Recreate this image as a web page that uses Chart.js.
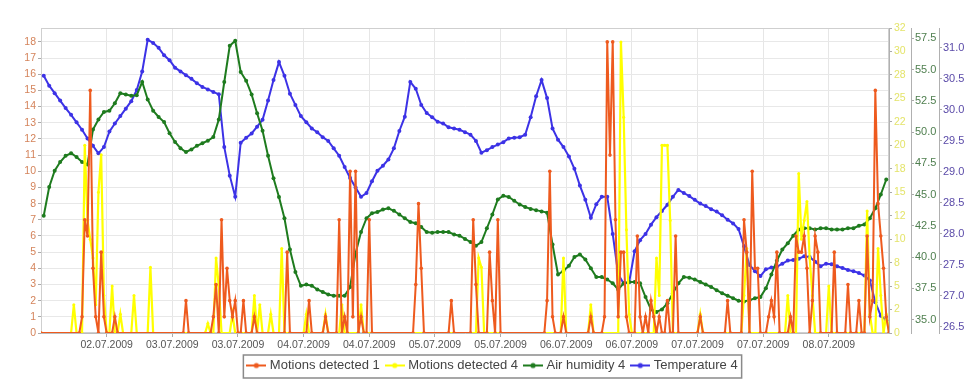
<!DOCTYPE html>
<html><head><meta charset="utf-8">
<script src="https://cdn.jsdelivr.net/npm/chart.js@4.4.1/dist/chart.umd.min.js"></script>
<style>html,body{margin:0;padding:0;background:#fff;}canvas{display:block;}</style>
</head><body>
<canvas id="c" width="971" height="385"></canvas>
<script>
// ---------- data ----------
const SERIES_NAMES = ['Motions detected 1', 'Motions detected 4', 'Air humidity 4', 'Temperature 4'];

// x axis: hours since 02.07.2009 00:00
const X_MIN_HOUR = 0, X_MAX_HOUR = 155;
const X_TICK_HOURS = [12, 24, 36, 48, 60, 72, 84, 96, 108, 120, 132, 144];
const X_TICK_LABELS = ['02.07.2009', '03.07.2009', '03.07.2009', '04.07.2009', '04.07.2009', '05.07.2009',
  '05.07.2009', '06.07.2009', '06.07.2009', '07.07.2009', '07.07.2009', '08.07.2009'];

const LEFT_TICKS = [0, 1, 2, 3, 4, 5, 6, 7, 8, 9, 10, 11, 12, 13, 14, 15, 16, 17, 18];
const YELLOW_TICKS = [0, 2.5, 5, 7.5, 10, 12.5, 15, 17.5, 20, 22.5, 25, 27.5, 30, 32.5];
const YELLOW_TICK_LABELS = ['0', '2', '5', '8', '10', '12', '15', '18', '20', '22', '25', '28', '30', '32'];
const HUMIDITY_TICKS = [35, 37.5, 40, 42.5, 45, 47.5, 50, 52.5, 55, 57.5];
const TEMP_TICKS = [26.5, 27, 27.5, 28, 28.5, 29, 29.5, 30, 30.5, 31];

// hourly sensor readings (taken at hh:30), first one at 02.07 00:30
const SENSOR_FIRST_HOUR = 0.5;
const TEMPERATURE = [
  30.55, 30.39, 30.27, 30.15, 30.03, 29.92, 29.80, 29.68, 29.54, 29.42,
  29.30, 29.40, 29.65, 29.78, 29.90, 30.02, 30.14, 30.32, 30.62, 31.13,
  31.08, 31.00, 30.88, 30.80, 30.68, 30.62, 30.56, 30.50, 30.43, 30.37,
  30.33, 30.29, 30.25, 29.40, 28.94, 28.60, 29.47, 29.55, 29.62, 29.73,
  29.84, 30.15, 30.48, 30.77, 30.55, 30.26, 30.08, 29.90, 29.80, 29.70,
  29.64, 29.56, 29.50, 29.38, 29.26, 29.08, 28.90, 28.75, 28.60, 28.66,
  28.85, 29.02, 29.10, 29.20, 29.38, 29.66, 29.89, 30.45, 30.34, 30.08,
  29.95, 29.88, 29.81, 29.78, 29.72, 29.70, 29.68, 29.64, 29.60, 29.50,
  29.31, 29.35, 29.40, 29.44, 29.48, 29.54, 29.55, 29.56, 29.60, 29.88,
  30.22, 30.48, 30.19, 29.70, 29.52, 29.40, 29.25, 29.05, 28.78, 28.55,
  28.26, 28.48, 28.60, 28.60, 28.00, 27.35, 27.20, 27.22, 27.72, 27.90,
  28.00, 28.15, 28.27, 28.37, 28.47, 28.60, 28.71, 28.66, 28.61, 28.55,
  28.49, 28.45, 28.40, 28.36, 28.30, 28.23, 28.17, 28.08, 27.80, 27.50,
  27.40, 27.32, 27.43, 27.46, 27.47, 27.52, 27.57, 27.58, 27.60, 27.64,
  27.63, 27.55, 27.48, 27.52, 27.51, 27.48, 27.45, 27.42, 27.40, 27.37,
  27.33, 27.25, 26.90, 26.68, 26.61
];
const HUMIDITY = [
  43.3, 45.6, 46.9, 47.6, 48.1, 48.3, 48.0, 47.6, 47.4, 50.2,
  51.0, 51.6, 51.7, 52.3, 53.1, 53.0, 52.9, 52.95, 54.0, 52.6,
  51.7, 51.2, 50.8, 49.9, 49.2, 48.7, 48.4, 48.6, 48.9, 49.1,
  49.3, 49.6, 51.0, 54.0, 56.9, 57.3, 54.8, 54.1, 53.0, 51.5,
  50.1, 48.1, 46.3, 44.8, 43.1, 40.6, 38.8, 37.7, 37.8, 37.7,
  37.4, 37.2, 37.0, 36.9, 36.9, 36.9, 37.6, 40.3, 42.0, 43.1,
  43.5, 43.6, 43.8, 43.9, 43.7, 43.4, 43.1, 42.8, 42.7, 42.4,
  42.0, 41.95, 42.0, 42.0, 42.0, 41.8, 41.7, 41.45, 41.2, 40.9,
  41.2, 42.3, 43.4, 44.6, 44.9, 44.8, 44.5, 44.2, 44.0, 43.85,
  43.75, 43.65, 43.55, 41.0, 38.6, 38.9, 39.3, 40.0, 40.2, 39.8,
  39.1, 38.4, 38.4, 38.2, 37.9, 37.4, 37.9, 38.0, 38.0, 37.9,
  36.8, 35.8, 35.6, 35.8, 36.3, 37.1, 37.9, 38.4, 38.35, 38.2,
  38.0, 37.8, 37.6, 37.35, 37.1, 36.9, 36.7, 36.5, 36.45, 36.55,
  36.7, 36.8, 37.5, 38.6, 39.7, 40.6, 41.1, 41.7, 42.2, 42.3,
  42.3, 42.2, 42.3, 42.3, 42.2, 42.2, 42.2, 42.3, 42.3, 42.5,
  42.6, 43.1, 43.9, 45.0, 46.2
];

// motion counts (half-hour readings), listed around each burst
const MOTION1_HOURS = [
  0,
  7, 7.5, 8, 8.5, 9, 9.5, 10, 10.5, 11, 11.5, 12,
  13, 13.5, 14,
  26, 26.5, 27,
  31, 31.5, 32, 32.5, 33, 33.5, 34, 34.5, 35, 35.5, 36,
  36.5, 37, 37.5,
  38.5, 39, 39.5,
  44.5, 45, 45.5,
  48.5, 49, 49.5,
  51.5, 52, 52.5,
  54, 54.5, 55, 55.5, 56, 56.5, 57, 57.5, 58, 58.5, 59,
  59.5, 60, 60.5,
  68, 68.5, 69, 69.5, 70,
  74.5, 75, 75.5,
  78.5, 79, 79.5, 80,
  81.5, 82, 82.5, 83, 83.5, 84,
  92, 92.5, 93, 93.5, 94,
  95, 95.5, 96,
  100, 100.5, 101,
  102.5, 103, 103.5, 104, 104.5, 105, 105.5, 106, 106.5, 107, 107.5,
  108.5, 109, 109.5, 110, 110.5, 111, 111.5, 112, 112.5, 113, 113.5,
  114, 114.5, 115,
  115.5, 116, 116.5,
  120, 120.5, 121,
  125, 125.5, 126,
  128, 128.5, 129, 129.5, 130, 130.5, 131, 131.5,
  132.5, 133, 133.5, 134, 134.5, 135,
  136.5, 137, 137.5, 138, 138.5, 139, 139.5, 140, 140.5, 141, 141.5, 142, 142.5,
  144.5, 145, 145.5,
  147, 147.5, 148,
  149, 149.5, 150,
  150.5, 151, 151.5, 152, 152.5, 153, 153.5, 154, 154.5, 155
];
const MOTION1_VALUES = [
  0,
  0, 1, 7, 6, 15, 4, 1, 0, 5, 1, 0,
  0, 1, 0,
  0, 2, 0,
  0, 1, 3, 0, 7, 1, 4, 2, 1, 2, 0,
  0, 2, 0,
  0, 1, 0,
  0, 5, 0,
  0, 2, 0,
  0, 1, 0,
  0, 7, 0, 1, 0, 10, 1, 10, 0, 1, 0,
  0, 7, 0,
  0, 3, 8, 4, 0,
  0, 2, 0,
  0, 7, 3, 0,
  0, 5, 2, 0, 7, 0,
  0, 2, 10, 1, 0,
  0, 1, 0,
  0, 1, 0,
  0, 1, 18, 11, 18, 7, 1, 5, 5, 1, 0,
  0, 6, 1, 0, 1, 0, 2, 1, 0, 1, 0,
  0, 2, 0,
  0, 6, 0,
  0, 1, 0,
  0, 2, 0,
  0, 7, 5, 0, 10, 4, 4, 0,
  0, 1, 2, 1, 5, 0,
  0, 1, 0, 6, 5, 5, 6, 4, 0, 2, 6, 5, 0,
  0, 5, 0,
  0, 3, 0,
  0, 2, 0,
  0, 6, 1, 2, 15, 8, 6, 4, 1, 0
];
const MOTION4_HOURS = [
  0,
  5.5, 6, 6.5,
  7.5, 8, 8.5, 9, 9.5, 10, 10.5, 11, 11.5, 12,
  12.5, 13, 13.5,
  14, 14.5, 15,
  16.5, 17, 17.5,
  19.5, 20, 20.5,
  30, 30.5, 31,
  31.5, 32, 32.5, 33,
  34.5, 35, 35.5,
  38.5, 39, 39.5, 40, 40.5,
  41.5, 42, 42.5,
  43.5, 44, 44.5,
  48, 48.5, 49,
  51.5, 52, 52.5,
  54.5, 55, 55.5,
  58, 58.5, 59,
  79.5, 80, 80.5, 81,
  95, 95.5, 96,
  100, 100.5, 101,
  105.5, 106, 106.5, 107, 107.5, 108,
  112, 112.5, 113, 113.5, 114, 114.5, 115, 115.5,
  120, 120.5, 121,
  128, 128.5, 129, 129.5,
  136, 136.5, 137,
  138, 138.5, 139, 139.5, 140, 140.5, 141, 141.5,
  143.5, 144, 144.5,
  150.5, 151, 151.5, 152, 152.5, 153, 153.5, 154, 154.5, 155
];
const MOTION4_VALUES = [
  0,
  0, 3, 0,
  0, 20, 12, 10, 8, 3, 15, 19, 4, 0,
  0, 5, 0,
  0, 2, 0,
  0, 4, 0,
  0, 7, 0,
  0, 1, 0,
  0, 8, 5, 0,
  0, 2, 0,
  0, 4, 0, 3, 0,
  0, 2, 0,
  0, 9, 0,
  0, 2, 0,
  0, 2, 0,
  0, 3, 0,
  0, 3, 0,
  0, 8, 7, 0,
  0, 8, 0,
  0, 3, 0,
  0, 31, 23, 11, 2, 0,
  0, 8, 4, 20, 20, 20, 12, 0,
  0, 2, 0,
  0, 4, 9, 0,
  0, 4, 0,
  0, 17, 10, 12, 14, 8, 4, 0,
  0, 5, 0,
  0, 13, 2, 0, 0, 9, 4, 0, 2, 0
];

// ---------- build ----------
const COLORS = ['#ee5a1e', '#ffff00', '#1e7b1e', '#3c32e6'];
const pairs = (xs, ys) => ys.map((v, i) => ({x: xs[i], y: v}));
const hourly = (ys) => ys.map((v, i) => ({x: SENSOR_FIRST_HOUR + i, y: v}));

function marker(color) {
  const c = document.createElement('canvas');
  c.width = 20; c.height = 8;
  const g = c.getContext('2d');
  g.strokeStyle = color; g.lineWidth = 2;
  g.beginPath(); g.moveTo(0, 4); g.lineTo(20, 4); g.stroke();
  g.fillStyle = color; g.beginPath(); g.arc(10, 4, 2.6, 0, Math.PI * 2); g.fill();
  return c;
}
const MARKERS = COLORS.map(marker);

function ds(label, data, color, axis, r, w) {
  return {label, data, yAxisID: axis, borderColor: color, backgroundColor: color,
    pointBackgroundColor: color, pointBorderWidth: 0, pointRadius: r, borderWidth: w,
    tension: 0, fill: false};
}

const FONT = "'Liberation Sans', Arial, sans-serif";
const fixTicks = (arr) => (s) => { s.ticks = arr.map(v => ({value: v})); };

const plugins = [{
  id: 'bg',
  beforeDraw(chart) {
    const c = chart.ctx; c.save(); c.fillStyle = '#fff'; c.fillRect(0, 0, chart.width, chart.height); c.restore();
  },
  beforeDatasetsDraw(chart) {
    const a = chart.chartArea, c = chart.ctx;
    c.save(); c.strokeStyle = '#cfcfcf'; c.lineWidth = 1;
    c.strokeRect(a.left + 0.5, a.top + 0.5, a.right - a.left - 1, a.bottom - a.top - 1);
    c.restore();
  },
  afterDraw(chart) {
    const hb = chart.legend && chart.legend.legendHitBoxes;
    if (!hb || !hb.length) return;
    const l = Math.min(...hb.map(h => h.left)) - 6;
    const r = Math.max(...hb.map(h => h.left + h.width)) + 4;
    const t = hb[0].top - 4, b = hb[0].top + hb[0].height + 6;
    const c = chart.ctx; c.save(); c.strokeStyle = '#8a8a8a'; c.lineWidth = 1.5;
    c.strokeRect(l, t, r - l, b - t); c.restore();
  }
}];

new Chart(document.getElementById('c'), {
  type: 'line',
  data: {datasets: [
    ds(SERIES_NAMES[0], pairs(MOTION1_HOURS, MOTION1_VALUES), COLORS[0], 'y', 1.8, 2),
    ds(SERIES_NAMES[1], pairs(MOTION4_HOURS, MOTION4_VALUES), COLORS[1], 'yY', 1.5, 2.2),
    ds(SERIES_NAMES[2], hourly(HUMIDITY), COLORS[2], 'yH', 2, 2),
    ds(SERIES_NAMES[3], hourly(TEMPERATURE), COLORS[3], 'yT', 2, 2)
  ]},
  options: {
    responsive: false, animation: false, events: [], devicePixelRatio: 1,
    layout: {padding: {left: 16, right: 0, top: 28, bottom: 3}},
    plugins: {
      tooltip: {enabled: false},
      legend: {
        position: 'bottom',
        labels: {
          usePointStyle: true, pointStyleWidth: 14, padding: 8, color: '#444',
          font: {family: FONT, size: 13},
          generateLabels(chart) {
            const items = Chart.defaults.plugins.legend.labels.generateLabels(chart);
            items.forEach((it, i) => { it.pointStyle = MARKERS[i]; });
            return items;
          }
        }
      }
    },
    scales: {
      x: {
        type: 'linear', position: 'bottom', min: X_MIN_HOUR, max: X_MAX_HOUR,
        afterBuildTicks: fixTicks(X_TICK_HOURS),
        afterFit: (s) => { s.height = 18; },
        grid: {color: '#e6e6e6', tickLength: 4, tickColor: '#aaa'},
        border: {color: '#bdbdbd'},
        ticks: {autoSkip: false, maxRotation: 0, padding: 2, color: '#555', font: {family: FONT, size: 10.5},
          callback: (v, i) => X_TICK_LABELS[i]}
      },
      y: {
        type: 'linear', position: 'left', min: 0, max: 18.86,
        afterBuildTicks: fixTicks(LEFT_TICKS),
        afterFit: (s) => { s.width = 25; },
        grid: {color: '#e8e8e8', tickLength: 3, tickColor: '#aaa'},
        border: {color: '#bdbdbd'},
        ticks: {autoSkip: false, padding: 2, color: '#d4835a', font: {family: FONT, size: 10.5},
          callback: (v) => String(v)}
      },
      yY: {
        type: 'linear', position: 'right', weight: 0, min: 0, max: 32.5,
        afterBuildTicks: fixTicks(YELLOW_TICKS),
        afterFit: (s) => { s.width = 22; },
        grid: {drawOnChartArea: false, tickLength: 3, color: '#aaa'},
        border: {color: '#b0b0b0'},
        ticks: {autoSkip: false, padding: 2, color: '#e4e46a', font: {family: FONT, size: 10.5},
          callback: (v, i) => YELLOW_TICK_LABELS[i]}
      },
      yH: {
        type: 'linear', position: 'right', weight: 1, min: 33.92, max: 58.32,
        afterBuildTicks: fixTicks(HUMIDITY_TICKS),
        afterFit: (s) => { s.width = 28; },
        grid: {drawOnChartArea: false, tickLength: 3, color: '#aaa'},
        border: {color: '#b0b0b0'},
        ticks: {autoSkip: false, padding: 1, color: '#4f7f4f', font: {family: FONT, size: 11},
          callback: (v) => v.toFixed(1)}
      },
      yT: {
        type: 'linear', position: 'right', weight: 2, min: 26.403, max: 31.32,
        afterBuildTicks: fixTicks(TEMP_TICKS),
        afterFit: (s) => { s.width = 32; },
        grid: {drawOnChartArea: false, tickLength: 3, color: '#aaa'},
        border: {color: '#b0b0b0'},
        ticks: {autoSkip: false, padding: 1, color: '#5a4aa8', font: {family: FONT, size: 11},
          callback: (v) => v.toFixed(1)}
      }
    }
  },
  plugins
});
</script>
</body></html>
